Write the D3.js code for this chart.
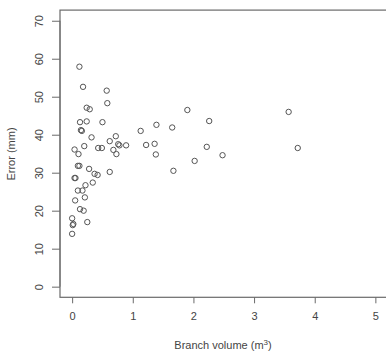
<!DOCTYPE html>
<html>
<head>
<meta charset="utf-8">
<script src="https://cdn.jsdelivr.net/npm/d3@7"></script>
<style>
  body { margin: 0; background: #fff; }
  text { font-family: "Liberation Sans", Arial, sans-serif; }
</style>
</head>
<body>
<svg width="386" height="352"></svg>
<script>
// branch volume (m3)
var volume = [0.12, 0.18, 0.57, 0.58, 0.24, 0.29, 0.13, 0.24, 0.50, 0.145, 0.16, 0.32,
    1.13, 1.39, 1.65, 0.72, 0.62, 0.04, 0.105, 0.20, 0.43, 0.49, 0.68, 0.76, 0.78, 0.89,
    0.73, 1.22, 1.36, 1.38, 0.095, 0.12, 0.28, 0.37, 0.42, 0.62, 0.04, 0.055, 0.34, 0.22,
    0.095, 0.17, 0.21, 0.05, 0.13, 0.19, 0.0, 0.02, 0.01, 0.25, 0.0,
    1.90, 2.26, 3.57, 3.72, 2.22, 2.48, 2.02, 1.67];
// error (mm)
var error = [57.9, 52.6, 51.6, 48.3, 47.1, 46.7, 43.3, 43.5, 43.3, 41.2, 41.0, 39.3,
    41.0, 42.6, 41.9, 39.6, 38.3, 36.1, 34.9, 37.0, 36.5, 36.5, 36.0, 37.5, 37.2, 37.2,
    34.9, 37.3, 37.6, 34.8, 31.8, 31.8, 31.0, 29.7, 29.4, 30.2, 28.6, 28.6, 27.4, 26.7,
    25.3, 25.3, 23.5, 22.7, 20.4, 20.0, 18.0, 16.5, 16.2, 17.0, 13.9,
    46.5, 43.6, 46.0, 36.5, 36.8, 34.6, 33.1, 30.5];
var xTicks = [0, 1, 2, 3, 4, 5];
var yTicks = [0, 10, 20, 30, 40, 50, 60, 70];

var svg = d3.select("svg");
var axisCol = "#6a6a6a", textCol = "#444";

var x = d3.scaleLinear().domain([-0.2, 5.2]).range([60, 387.5]);
var y = d3.scaleLinear().domain([-2.8, 72.8]).range([297.3, 10.1]);

// box
svg.append("rect")
    .attr("x", x.range()[0]).attr("y", y.range()[1])
    .attr("width", x.range()[1] - x.range()[0])
    .attr("height", y.range()[0] - y.range()[1])
    .attr("fill", "none").attr("stroke", axisCol).attr("stroke-width", 1.2);

// bottom axis
var gx = svg.append("g").attr("transform", "translate(0," + y.range()[0] + ")")
    .call(d3.axisBottom(x).tickValues(xTicks).tickSize(6).tickPadding(9).tickFormat(d3.format("d")));
gx.select(".domain").remove();
gx.selectAll("line").attr("stroke", axisCol);
gx.selectAll("text").attr("fill", textCol).style("font-size", "11px");

// left axis, rotated labels
var gy = svg.append("g").attr("transform", "translate(" + x.range()[0] + ",0)")
    .call(d3.axisLeft(y).tickValues(yTicks).tickSize(8).tickFormat(d3.format("d")));
gy.select(".domain").attr("d", "M0," + y(0) + "V" + y(70)).attr("stroke", axisCol);
gy.selectAll("line").attr("stroke", axisCol);
gy.selectAll("text")
    .attr("fill", textCol).style("font-size", "11px")
    .attr("x", null).attr("dy", null)
    .attr("text-anchor", "middle")
    .attr("transform", "translate(-17,0) rotate(-90)");

// points
svg.append("g").selectAll("circle")
    .data(volume)
    .enter()
    .append("circle")
    .attr("cx", function (d) { return x(d); })
    .attr("cy", function (d, i) { return y(error[i]); })
    .attr("r", 2.7)
    .attr("fill", "none")
    .attr("stroke", "#555")
    .attr("stroke-width", 1);

// axis titles
svg.append("text")
    .attr("x", 223).attr("y", 349)
    .attr("text-anchor", "middle")
    .attr("fill", textCol).style("font-size", "11px")
    .html('Branch volume (m<tspan dy="-4" font-size="8px">3</tspan><tspan dy="4">)</tspan>');

svg.append("text")
    .attr("transform", "translate(15,154) rotate(-90)")
    .attr("text-anchor", "middle")
    .attr("fill", textCol).style("font-size", "11px")
    .text("Error (mm)");
</script>
</body>
</html>
